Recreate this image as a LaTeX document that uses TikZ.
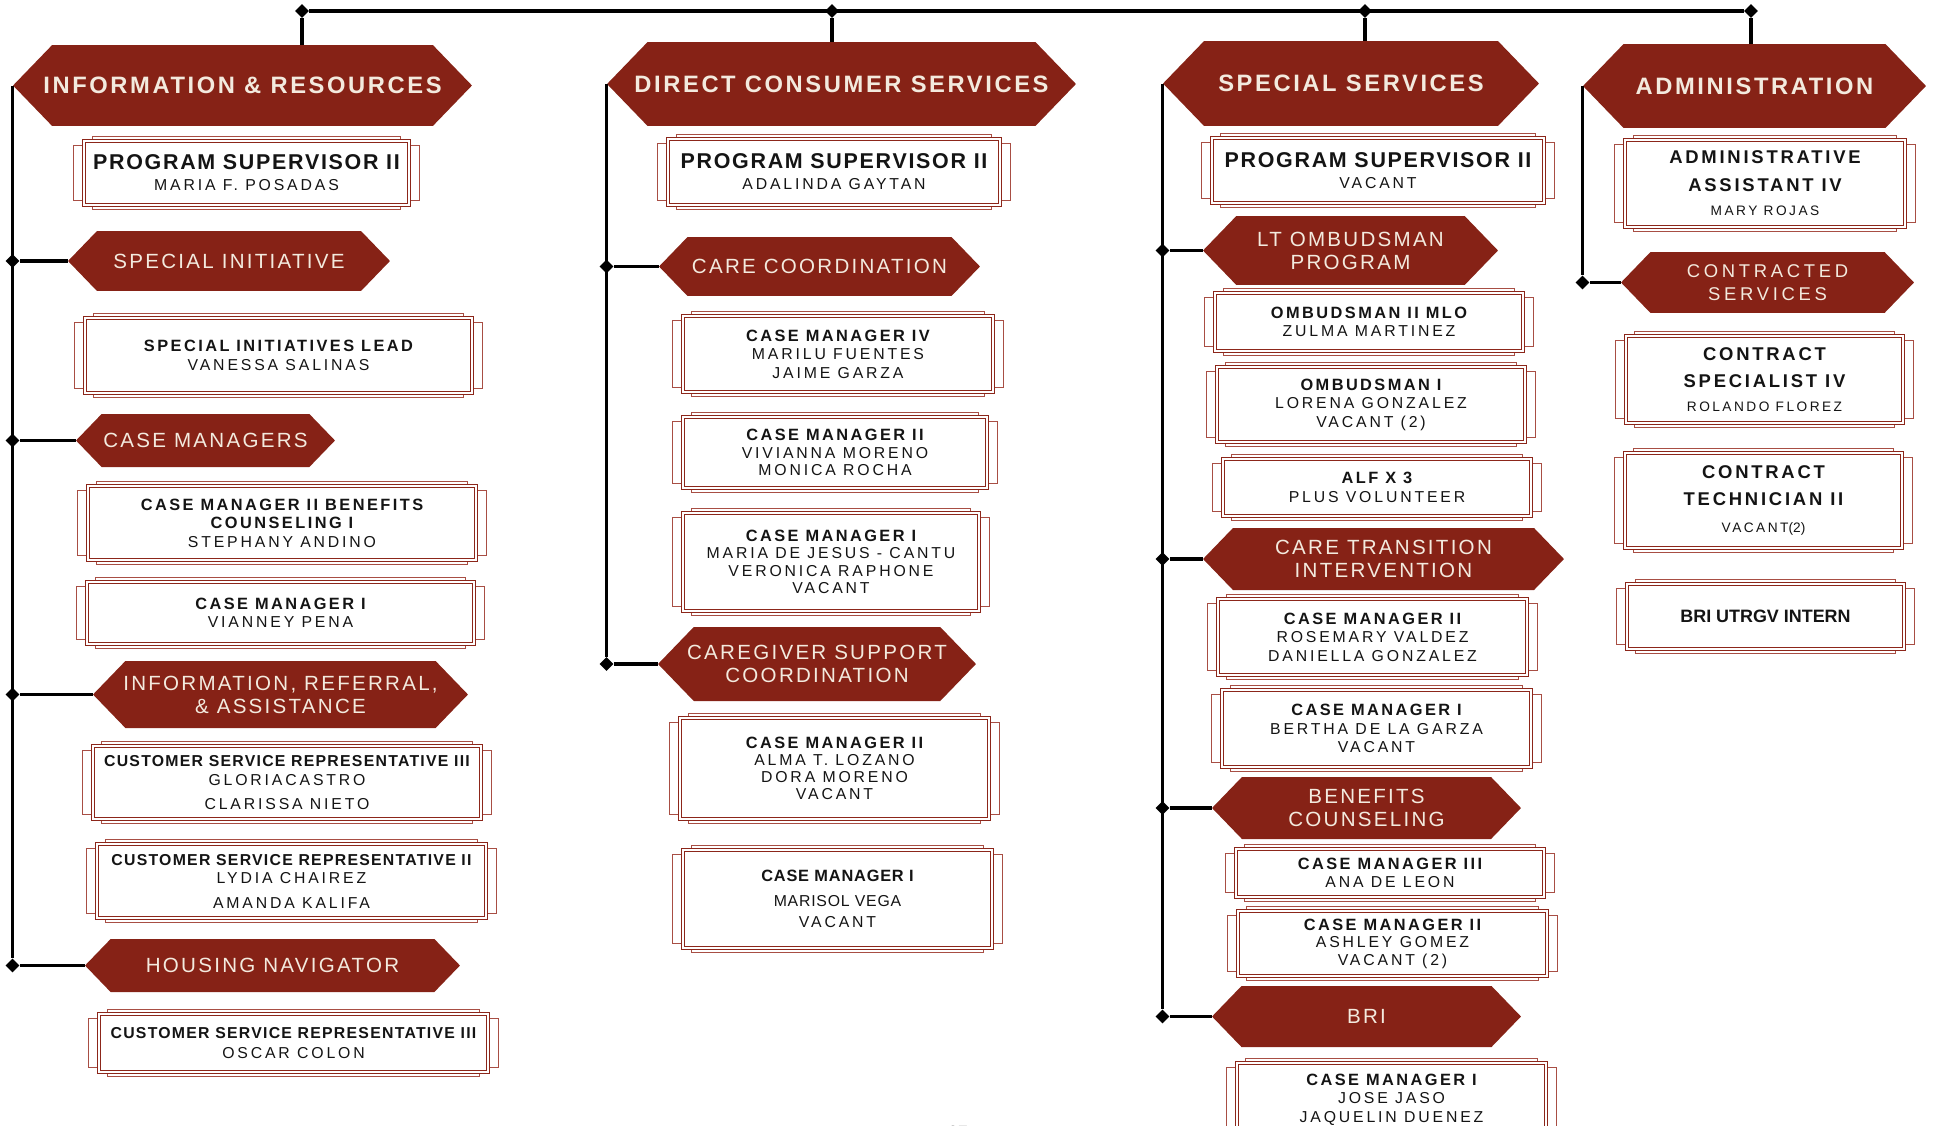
\documentclass[tikz,border=0pt]{standalone}
\usepackage{fontspec}
\setmainfont{Liberation Sans}
\newfontfamily\bannerfont[LetterSpace=11]{Liberation Sans}
\newfontfamily\titlefont[LetterSpace=15]{Liberation Sans}
\newfontfamily\pstfont[LetterSpace=8]{Liberation Sans}
\newfontfamily\namefont[LetterSpace=18]{Liberation Sans}
\newfontfamily\tightfont[LetterSpace=5]{Liberation Sans}
\newfontfamily\widefont[LetterSpace=20]{Liberation Sans}
\usetikzlibrary{shapes.symbols,shapes.geometric}

\definecolor{bannerred}{RGB}{134,34,22}
\definecolor{bannertext}{RGB}{243,234,222}
\definecolor{framered}{RGB}{140,38,26}
\definecolor{notchred}{RGB}{168,78,68}
\definecolor{ink}{RGB}{20,20,20}

\pgfdeclarelayer{bg}
\pgfsetlayers{bg,main}

\newcommand{\pst}[1]{{\pstfont\bfseries\fontsize{12.2}{12}\selectfont #1}}
\newcommand{\jobt}[1]{{\titlefont\bfseries\fontsize{9.3}{10}\selectfont #1}}
\newcommand{\csrt}[1]{{\pstfont\bfseries\fontsize{9}{10}\selectfont #1}}
\newcommand{\who}[1]{{\namefont\fontsize{9}{10}\selectfont #1}}
\newcommand{\adt}[1]{{\titlefont\bfseries\fontsize{10.5}{11}\selectfont #1}}
\newcommand{\adw}[1]{{\namefont\fontsize{7.8}{9}\selectfont #1}}
\newcommand{\lowt}[1]{{\tightfont\bfseries\fontsize{9.3}{10}\selectfont #1}}
\newcommand{\loww}[1]{{\tightfont\fontsize{9}{10}\selectfont #1}}

\tikzset{
  banner/.style={signal, signal to=west and east, signal pointer angle=92,
    fill=bannerred, text=bannertext, inner ysep=0pt, inner xsep=-22pt, align=center},
  deptbanner/.style={banner, font=\bannerfont\bfseries\fontsize{13.5}{14}\selectfont},
  unitbanner/.style={banner, font=\bannerfont\fontsize{11.7}{13}\selectfont},
  postbox/.style={rectangle, draw=framered, line width=0.6pt, double=white,
    double distance=0.8pt, fill=white, inner sep=0pt, align=center, text=ink,
    font=\fontsize{9}{10.5}\selectfont},
  notchline/.style={draw=notchred, line width=0.5pt},
  junction/.style={diamond, fill=black, inner sep=0pt, minimum size=8pt},
  busline/.style={line width=1.8pt},
  stubline/.style={line width=2.6pt},
  spineline/.style={line width=1.6pt},
  branchline/.style={line width=2pt}
}

\begin{document}
\begin{tikzpicture}[x=0.02cm, y=-0.02cm]
\useasboundingbox (0,0) rectangle (1935,1126);

\node[deptbanner, minimum width=9.18cm, minimum height=1.62cm] (ir) at (242.5,85.5) {INFORMATION \& RESOURCES};
\node[postbox, minimum width=6.5cm, minimum height=1.28cm, font=\fontsize{9}{12}\selectfont] (ps1) at (246.5,173)
  {\pst{PROGRAM SUPERVISOR II}\\ \who{MARIA F. POSADAS}};
\node[unitbanner, minimum width=6.44cm, minimum height=1.2cm] (si) at (229,261) {SPECIAL INITIATIVE};
\node[postbox, minimum width=7.74cm, minimum height=1.5cm] (sil) at (278.5,355.5)
  {\jobt{SPECIAL INITIATIVES LEAD}\\ \who{VANESSA SALINAS}};
\node[unitbanner, minimum width=5.18cm, minimum height=1.06cm] (cms) at (205.5,440.5) {CASE MANAGERS};
\node[postbox, minimum width=7.76cm, minimum height=1.48cm] (cmb) at (282,523)
  {\jobt{CASE MANAGER II BENEFITS}\\ \jobt{COUNSELING I}\\ \who{STEPHANY ANDINO}};
\node[postbox, minimum width=7.74cm, minimum height=1.24cm] (cm1) at (280.5,613)
  {\jobt{CASE MANAGER I}\\ \who{VIANNEY PENA}};
\node[unitbanner, minimum width=7.5cm, minimum height=1.34cm] (ira) at (280.5,694.5) {INFORMATION, REFERRAL,\\ \& ASSISTANCE};
\node[postbox, minimum width=7.76cm, minimum height=1.46cm, font=\fontsize{9}{10.8}\selectfont] (csr3a) at (287,782.5)
  {\csrt{CUSTOMER SERVICE REPRESENTATIVE III}\\ \who{GLORIACASTRO}\\[2.9pt] \who{CLARISSA NIETO}};
\node[postbox, minimum width=7.78cm, minimum height=1.48cm, font=\fontsize{9}{10.8}\selectfont] (csr2) at (291.5,881)
  {\csrt{CUSTOMER SERVICE REPRESENTATIVE II}\\ \who{LYDIA CHAIREZ}\\[2.9pt] \who{AMANDA KALIFA}};
\node[unitbanner, minimum width=7.5cm, minimum height=1.06cm] (hn) at (272.5,965.5) {HOUSING NAVIGATOR};
\node[postbox, minimum width=7.78cm, minimum height=1.16cm, font=\fontsize{9}{11}\selectfont] (csr3b) at (293.5,1043)
  {\csrt{CUSTOMER SERVICE REPRESENTATIVE III}\\ \who{OSCAR COLON}};

\node[deptbanner, minimum width=9.38cm, minimum height=1.68cm] (dcs) at (841.5,84) {DIRECT CONSUMER SERVICES};
\node[postbox, minimum width=6.64cm, minimum height=1.32cm, font=\fontsize{9}{12}\selectfont] (ps2) at (834,172)
  {\pst{PROGRAM SUPERVISOR II}\\ \who{ADALINDA GAYTAN}};
\node[unitbanner, minimum width=6.42cm, minimum height=1.18cm] (cc) at (819.5,266.5) {CARE COORDINATION};
\node[postbox, minimum width=6.2cm, minimum height=1.52cm] (cm4) at (838,354)
  {\jobt{CASE MANAGER IV}\\ \who{MARILU FUENTES}\\ \who{JAIME GARZA}};
\node[postbox, minimum width=6.08cm, minimum height=1.42cm, font=\fontsize{9}{9.8}\selectfont] (cm2a) at (835,452.5)
  {\jobt{CASE MANAGER II}\\ \who{VIVIANNA MORENO}\\ \who{MONICA ROCHA}};
\node[postbox, minimum width=5.92cm, minimum height=1.96cm, font=\fontsize{9}{9.9}\selectfont] (cm1a) at (831,562)
  {\jobt{CASE MANAGER I}\\ \who{MARIA DE JESUS - CANTU}\\ \who{VERONICA RAPHONE}\\ \who{VACANT}};
\node[unitbanner, minimum width=6.36cm, minimum height=1.48cm] (csc) at (817,664) {CAREGIVER SUPPORT\\ COORDINATION};
\node[postbox, minimum width=6.18cm, minimum height=2.02cm, font=\fontsize{9}{9.8}\selectfont] (cm2b) at (834.5,768.5)
  {\jobt{CASE MANAGER II}\\ \who{ALMA T. LOZANO}\\ \who{DORA MORENO}\\ \who{VACANT}};
\node[postbox, minimum width=6.18cm, minimum height=1.96cm, font=\fontsize{9}{12}\selectfont] (cm1b) at (837.5,899)
  {\lowt{CASE MANAGER I}\\[2.2pt] \loww{MARISOL VEGA}\\ \who{VACANT}};

\node[deptbanner, minimum width=7.52cm, minimum height=1.7cm] (ss) at (1351,83.5) {SPECIAL SERVICES};
\node[postbox, minimum width=6.64cm, minimum height=1.3cm, font=\fontsize{9}{12}\selectfont] (ps3) at (1378,170.5)
  {\pst{PROGRAM SUPERVISOR II}\\ \who{VACANT}};
\node[unitbanner, minimum width=5.9cm, minimum height=1.38cm] (lto) at (1350.5,250.5) {LT OMBUDSMAN\\ PROGRAM};
\node[postbox, minimum width=6.16cm, minimum height=1.16cm] (om2) at (1369,322)
  {\jobt{OMBUDSMAN II MLO}\\ \who{ZULMA MARTINEZ}};
\node[postbox, minimum width=6.16cm, minimum height=1.5cm] (om1) at (1371,404.5)
  {\jobt{OMBUDSMAN I}\\ \who{LORENA GONZALEZ}\\ \who{VACANT (2)}};
\node[postbox, minimum width=6.16cm, minimum height=1.14cm, font=\fontsize{9}{11}\selectfont] (alf) at (1377,487.5)
  {\jobt{ALF X 3}\\ \who{PLUS VOLUNTEER}};
\node[unitbanner, minimum width=7.22cm, minimum height=1.24cm] (cti) at (1383.5,559) {CARE TRANSITION\\ INTERVENTION};
\node[postbox, minimum width=6.18cm, minimum height=1.52cm] (cm2c) at (1372.5,637)
  {\jobt{CASE MANAGER II}\\ \who{ROSEMARY VALDEZ}\\ \who{DANIELLA GONZALEZ}};
\node[postbox, minimum width=6.18cm, minimum height=1.54cm] (cm1c) at (1376.5,728.5)
  {\jobt{CASE MANAGER I}\\ \who{BERTHA DE LA GARZA}\\ \who{VACANT}};
\node[unitbanner, minimum width=6.18cm, minimum height=1.24cm] (bc) at (1366.5,808) {BENEFITS\\ COUNSELING};
\node[postbox, minimum width=6.16cm, minimum height=0.96cm] (cm3) at (1390,873)
  {\jobt{CASE MANAGER III}\\ \who{ANA DE LEON}};
\node[postbox, minimum width=6.18cm, minimum height=1.3cm, font=\fontsize{9}{10}\selectfont] (cm2d) at (1392.5,943.5)
  {\jobt{CASE MANAGER II}\\ \who{ASHLEY GOMEZ}\\ \who{VACANT (2)}};
\node[unitbanner, minimum width=6.18cm, minimum height=1.22cm] (bri) at (1366.5,1016.5) {BRI};
\node[postbox, minimum width=6.18cm, minimum height=1.46cm] (cm1d) at (1391.5,1099.5)
  {\jobt{CASE MANAGER I}\\ \who{JOSE JASO}\\ \who{JAQUELIN DUENEZ}};

\node[deptbanner, minimum width=6.86cm, minimum height=1.68cm] (adm) at (1754.5,86) {ADMINISTRATION};
\node[postbox, minimum width=5.6cm, minimum height=1.74cm, font=\fontsize{9}{13.7}\selectfont] (aa4) at (1765,183.5)
  {\adt{ADMINISTRATIVE}\\[2.3pt] \adt{ASSISTANT IV}\\ \adw{MARY ROJAS}};
\node[unitbanner, minimum width=5.86cm, minimum height=1.22cm, font=\widefont\fontsize{10.5}{13}\selectfont] (cs) at (1767.5,282.5) {CONTRACTED\\ SERVICES};
\node[postbox, minimum width=5.54cm, minimum height=1.74cm, font=\fontsize{9}{13.7}\selectfont] (csp) at (1764.5,379.5)
  {\adt{CONTRACT}\\[1.7pt] \adt{SPECIALIST IV}\\ \adw{ROLANDO FLOREZ}};
\node[postbox, minimum width=5.54cm, minimum height=1.9cm, font=\fontsize{9}{15.5}\selectfont] (ct2) at (1763.5,500.5)
  {\adt{CONTRACT}\\ \adt{TECHNICIAN II}\\ \adw{VACANT}{\fontsize{7.8}{9}\selectfont(2)}};
\node[postbox, minimum width=5.54cm, minimum height=1.3cm] (brii) at (1765.5,616.5)
  {{\bfseries\fontsize{10.2}{11}\selectfont BRI UTRGV INTERN}};

\node[font=\fontsize{10}{12}\selectfont] (pg) at (958,1132) {27};

\begin{pgfonlayer}{bg}
\foreach \b in {ps1,sil,cmb,cm1,csr3a,csr2,csr3b,ps2,cm4,cm2a,cm1a,cm2b,cm1b,ps3,om2,om1,alf,cm2c,cm1c,cm3,cm2d,cm1d,aa4,csp,ct2,brii}
  \draw[notchline] ([shift={(5.1pt,2.3pt)}]\b.north west) -- ([shift={(-5.1pt,2.3pt)}]\b.north east)
    -- ([shift={(-5.1pt,-2.8pt)}]\b.north east) -- ([shift={(5.7pt,-2.8pt)}]\b.north east)
    -- ([shift={(5.7pt,2.8pt)}]\b.south east) -- ([shift={(-5.1pt,2.8pt)}]\b.south east)
    -- ([shift={(-5.1pt,-2.3pt)}]\b.south east) -- ([shift={(5.1pt,-2.3pt)}]\b.south west)
    -- ([shift={(5.1pt,2.8pt)}]\b.south west) -- ([shift={(-5.7pt,2.8pt)}]\b.south west)
    -- ([shift={(-5.7pt,-2.8pt)}]\b.north west) -- ([shift={(5.1pt,-2.8pt)}]\b.north west) -- cycle;
\end{pgfonlayer}

\node[junction] (t1) at (302,11) {};
\node[junction] (t2) at (832,11) {};
\node[junction] (t3) at (1365,11) {};
\node[junction] (t4) at (1751,11) {};
\draw[busline] (t1) -- (t4);
\draw[stubline] (t1) -- (t1 |- ir.north);
\draw[stubline] (t2) -- (t2 |- dcs.north);
\draw[stubline] (t3) -- (t3 |- ss.north);
\draw[stubline] (t4) -- (t4 |- adm.north);

\node[junction] (j1) at (ir.west |- si.west) {};
\node[junction] (j2) at (ir.west |- cms.west) {};
\node[junction] (j3) at (ir.west |- ira.west) {};
\node[junction] (j4) at (ir.west |- hn.west) {};
\draw[spineline] (ir.west) -- (j4);
\draw[branchline] (j1) -- (si.west);
\draw[branchline] (j2) -- (cms.west);
\draw[branchline] (j3) -- (ira.west);
\draw[branchline] (j4) -- (hn.west);

\node[junction] (k1) at (dcs.west |- cc.west) {};
\node[junction] (k2) at (dcs.west |- csc.west) {};
\draw[spineline] (dcs.west) -- (k2);
\draw[branchline] (k1) -- (cc.west);
\draw[branchline] (k2) -- (csc.west);

\node[junction] (m1) at (ss.west |- lto.west) {};
\node[junction] (m2) at (ss.west |- cti.west) {};
\node[junction] (m3) at (ss.west |- bc.west) {};
\node[junction] (m4) at (ss.west |- bri.west) {};
\draw[spineline] (ss.west) -- (m4);
\draw[branchline] (m1) -- (lto.west);
\draw[branchline] (m2) -- (cti.west);
\draw[branchline] (m3) -- (bc.west);
\draw[branchline] (m4) -- (bri.west);

\node[junction] (n1) at (adm.west |- cs.west) {};
\draw[spineline] (adm.west) -- (n1);
\draw[branchline] (n1) -- (cs.west);
\end{tikzpicture}
\end{document}
